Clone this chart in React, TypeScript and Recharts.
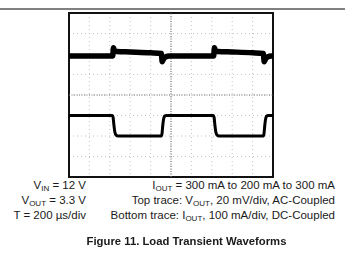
import React from 'react';
import { ComposedChart, Line, XAxis, YAxis, CartesianGrid, ReferenceLine, ReferenceArea } from 'recharts';

// time axis, 200 us/div, 10 divisions
const timeTicks = [0, 200, 400, 600, 800, 1000, 1200, 1400, 1600, 1800, 2000];
// bottom trace scale, 100 mA/div, 8 divisions
const currentTicks = [0, 100, 200, 300, 400, 500, 600, 700, 800];

// top trace: VOUT deviation (mV), AC-coupled
const voutTime = [0, 428, 436, 446, 470, 600, 800, 905, 914, 924, 945, 985, 1000, 1418, 1426, 1436, 1460, 1600, 1800, 1905, 1914, 1924, 1945, 1985, 2000];
const voutMv = [0, 0, 8, 5, 4.5, 4, 3.2, 2.6, -5.5, -3.5, -1, 0, 0, 0, 8, 5, 4.5, 4, 3.2, 2.6, -5.5, -3.5, -1, 0, 0];

// bottom trace: IOUT (mA), DC-coupled
const ioutTime = [0, 425, 432, 440, 450, 462, 480, 905, 912, 920, 930, 940, 955, 1415, 1422, 1430, 1440, 1452, 1470, 1905, 1912, 1920, 1930, 1940, 1955, 2000];
const ioutMa = [300, 300, 292, 255, 218, 204, 200, 200, 212, 255, 288, 298, 300, 300, 292, 255, 218, 204, 200, 200, 212, 255, 288, 298, 300, 300];

const voutData = voutTime.map((t, i) => ({ t, v: voutMv[i] }));
const ioutData = ioutTime.map((t, i) => ({ t, i: ioutMa[i] }));

const sub = { fontSize: 8, verticalAlign: '-2px' } as React.CSSProperties;
const line = { height: 15, lineHeight: '15px', whiteSpace: 'nowrap' } as React.CSSProperties;

// grid lines at every division, from the plot area offset
const vGrid = (p: any) => timeTicks.map((t) => p.offset.left + (p.offset.width * t) / 2000);
const hGrid = (p: any) => currentTicks.map((c) => p.offset.top + p.offset.height * (1 - c / 800));

export default function App() {
  return (
    <div style={{ position: 'fixed', left: 0, top: 0, width: 345, height: 256, background: '#fff', fontFamily: '"Liberation Sans", Arial, sans-serif', color: '#1a1a1a' }}>
      <div style={{ position: 'absolute', left: 0, top: 8, width: 345, height: 2, background: '#808080' }} />
      <ComposedChart width={345} height={256} margin={{ top: 13, right: 72, bottom: 79, left: 69 }}>
        <XAxis dataKey="t" type="number" domain={[0, 2000]} ticks={timeTicks} height={0} tick={false} tickLine={false} axisLine={false} allowDuplicatedCategory={false} />
        <YAxis yAxisId="i" type="number" domain={[0, 800]} ticks={currentTicks} width={0} tick={false} tickLine={false} axisLine={false} />
        <YAxis yAxisId="v" type="number" domain={[-118, 42]} hide />
        <CartesianGrid yAxisId="i" stroke="#c4c4c4" strokeWidth={1} strokeDasharray="1 3"
          verticalCoordinatesGenerator={vGrid} horizontalCoordinatesGenerator={hGrid} />
        <ReferenceLine yAxisId="i" x={1000} stroke="#777" strokeWidth={1.2} strokeDasharray="1 1.5" />
        <ReferenceLine yAxisId="i" y={400} stroke="#777" strokeWidth={1.2} strokeDasharray="1 1.5" />
        <ReferenceArea yAxisId="i" x1={0} x2={2000} y1={0} y2={800} fill="none" fillOpacity={0} stroke="#111" strokeWidth={2} />
        <Line yAxisId="v" data={voutData} dataKey="v" type="monotone" stroke="#000" strokeWidth={5.5} dot={false} isAnimationActive={false} />
        <Line yAxisId="i" data={ioutData} dataKey="i" type="monotone" stroke="#000" strokeWidth={3} dot={false} isAnimationActive={false} />
      </ComposedChart>
      <div style={{ position: 'absolute', right: 345 - 86, top: 178, fontSize: 11.5, textAlign: 'right' }}>
        <div style={line}>V<span style={sub}>IN</span> = 12 V</div>
        <div style={line}>V<span style={sub}>OUT</span> = 3.3 V</div>
        <div style={line}>T = 200 µs/div</div>
      </div>
      <div style={{ position: 'absolute', right: 10, top: 178, fontSize: 11.5, textAlign: 'right' }}>
        <div style={line}>I<span style={sub}>OUT</span> = 300 mA to 200 mA to 300 mA</div>
        <div style={line}>Top trace: V<span style={sub}>OUT</span>, 20 mV/div, AC-Coupled</div>
        <div style={line}>Bottom trace: I<span style={sub}>OUT</span>, 100 mA/div, DC-Coupled</div>
      </div>
      <div style={{ position: 'absolute', left: 0, width: 373, top: 235, textAlign: 'center', fontSize: 11.3, fontWeight: 'bold' }}>
        Figure 11. Load Transient Waveforms
      </div>
    </div>
  );
}
